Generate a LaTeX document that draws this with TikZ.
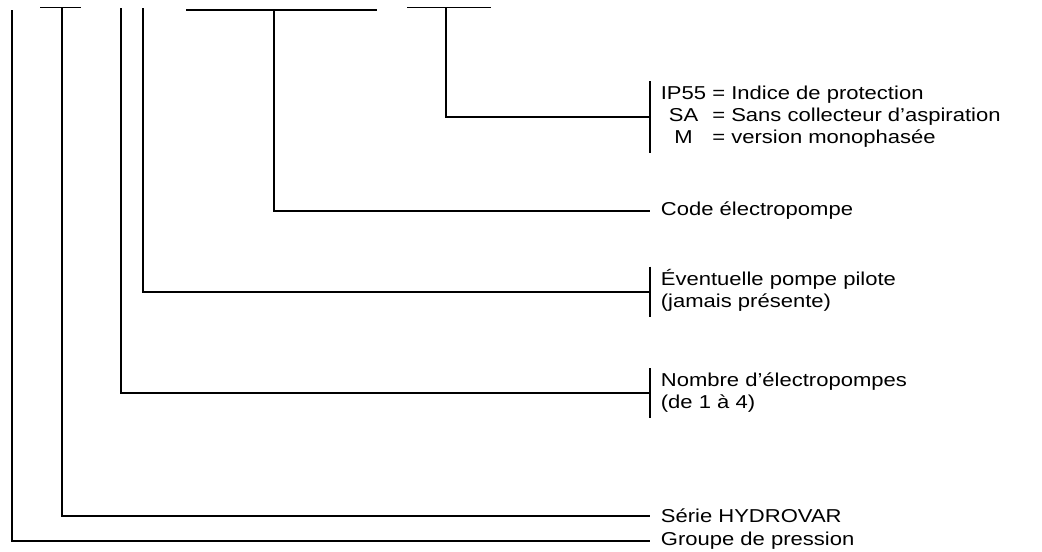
\documentclass[tikz,border=0pt]{standalone}
\usepackage{fontspec}
\setmainfont{Liberation Sans}[FakeStretch=1.18]
\begin{document}
\begin{tikzpicture}[x=0.75pt,y=-0.75pt,line width=1.3pt,
  lbl/.style={anchor=west,inner xsep=7.5pt,inner ysep=1.5pt,font=\fontsize{14}{16.5}\selectfont}]
\useasboundingbox (0,0) rectangle (1042,551);

% tops of the branches
\coordinate (t1) at (12,10);
\coordinate (t2) at (62,7.5);
\coordinate (t3) at (121,8);
\coordinate (t4) at (143,8);
\coordinate (t5) at (274,10);
\coordinate (t6) at (446,7.5);

% bars over the code positions
\coordinate (b2a) at (40,7.5);
\coordinate (b2b) at (81,7.5);
\coordinate (b5a) at (186,10);
\coordinate (b5b) at (377,10);
\coordinate (b6a) at (407,7.5);
\coordinate (b6b) at (491,7.5);
\draw (b2a) -- (b2b);
\draw (b5a) -- (b5b);
\draw (b6a) -- (b6b);

% labels
\node[lbl] (ip) at (650,117) {\begin{tabular}{@{}c@{\ =\ }l@{}}IP55 & Indice de protection\\ SA & Sans collecteur d’aspiration\\ M & version monophasée\end{tabular}};
\node[lbl] (code) at (650,211) {Code électropompe};
\node[lbl] (pilote) at (650,292) {\begin{tabular}{@{}l@{}}Éventuelle pompe pilote\\(jamais présente)\end{tabular}};
\node[lbl] (nombre) at (650,393) {\begin{tabular}{@{}l@{}}Nombre d’électropompes\\(de 1 à 4)\end{tabular}};
\node[lbl] (serie) at (650,516) {Série HYDROVAR};
\node[lbl] (groupe) at (650,541) {Groupe de pression};

% brackets
\draw (ip.north west) -- (ip.south west);
\draw (pilote.north west) -- (pilote.south west);
\draw (nombre.north west) -- (nombre.south west);

% connectors
\draw (t1) |- (groupe.west);
\draw (t2) |- (serie.west);
\draw (t3) |- (nombre.west);
\draw (t4) |- (pilote.west);
\draw (t5) |- (code.west);
\draw (t6) |- (ip.west);
\end{tikzpicture}
\end{document}
